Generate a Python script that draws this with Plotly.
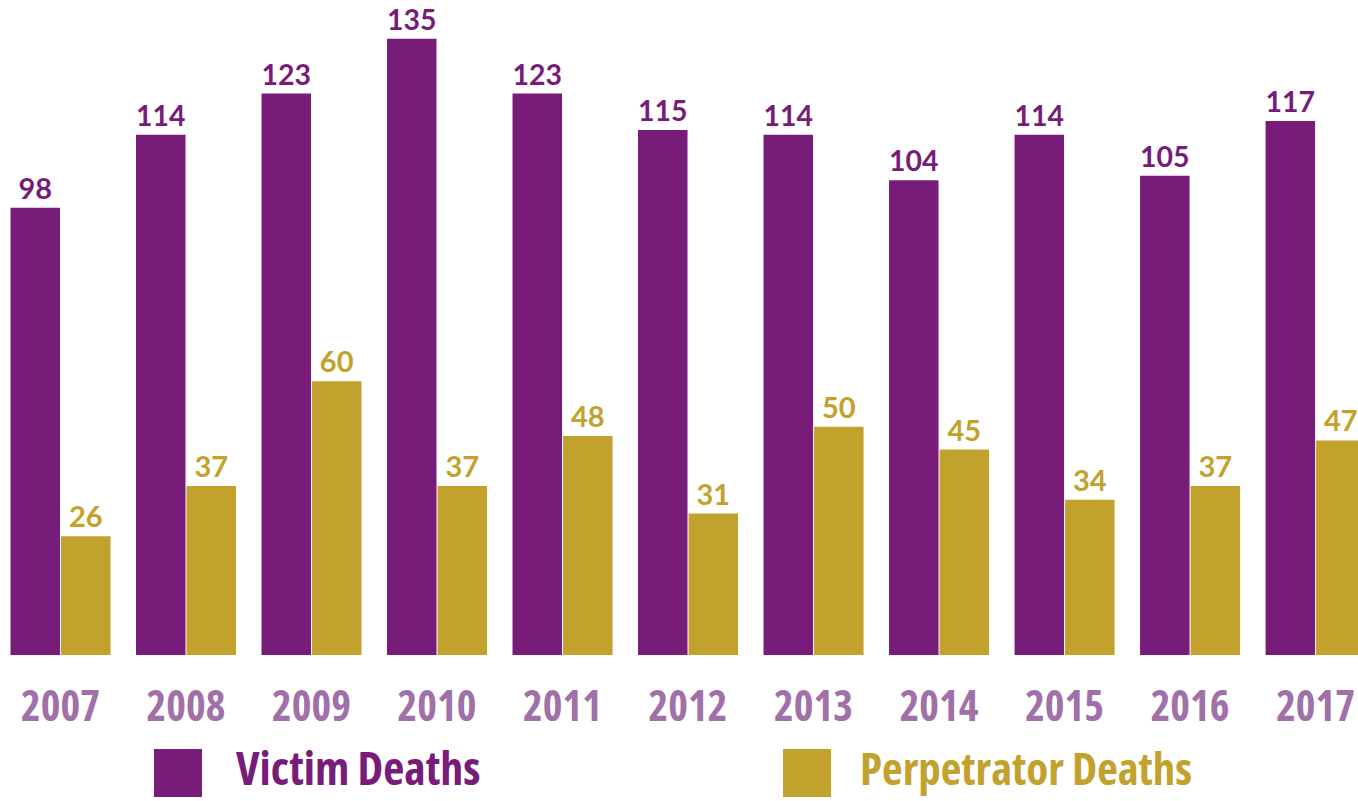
import plotly.graph_objects as go

years = ["2007", "2008", "2009", "2010", "2011", "2012", "2013", "2014", "2015", "2016", "2017"]
victim_deaths = [98, 114, 123, 135, 123, 115, 114, 104, 114, 105, 117]
perpetrator_deaths = [26, 37, 60, 37, 48, 31, 50, 45, 34, 37, 47]

PURPLE = "#781c79"
GOLD = "#c2a12d"
YEAR_COLOR = "#a070a8"
NUM_FONT = "Lato, 'Open Sans', sans-serif"
COND = "<span style='font-stretch:75%'>{}</span>"

fig = go.Figure()

fig.add_trace(go.Bar(
    x=years, y=victim_deaths, name="Victim Deaths",
    marker=dict(color=PURPLE, line=dict(width=0)),
    text=victim_deaths, textposition="outside",
    textfont=dict(family=NUM_FONT, size=29, color=PURPLE, weight="bold"),
    cliponaxis=False, showlegend=False,
))
fig.add_trace(go.Bar(
    x=years, y=perpetrator_deaths, name="Perpetrator Deaths",
    marker=dict(color=GOLD, line=dict(width=0)),
    text=perpetrator_deaths, textposition="outside",
    textfont=dict(family=NUM_FONT, size=29, color=GOLD, weight="bold"),
    cliponaxis=False, showlegend=False,
))

# legend drawn by hand: large squares + labels below the axis
legend_items = [("Victim Deaths", PURPLE, 0.1134, 0.172, 46), ("Perpetrator Deaths", GOLD, 0.5766, 0.632, 45)]
for label, color, sx, tx, fs in legend_items:
    fig.add_shape(type="rect", xref="paper", yref="paper",
                  x0=sx, x1=sx + 48 / 1358, y0=-(749 - 655) / 655, y1=-(797 - 655) / 655,
                  fillcolor=color, line=dict(width=0))
    fig.add_annotation(text=COND.format(label), xref="paper", yref="paper", x=tx, y=-(800 - 655) / 655,
                       xanchor="left", yanchor="bottom", showarrow=False,
                       font=dict(family="Open Sans", size=fs, color=color, weight="bold"))

fig.update_layout(
    width=1358, height=801,
    margin=dict(l=0, r=0, t=0, b=146),
    paper_bgcolor="white", plot_bgcolor="white",
    barmode="group", bargap=0.195, bargroupgap=0.02,
    xaxis=dict(
        type="category", range=[-0.482, 10.338],
        tickmode="array", tickvals=years, ticktext=[COND.format(y) for y in years],
        showline=False, showgrid=False, zeroline=False,
        ticks="", ticklabelstandoff=23,
        tickfont=dict(family="Open Sans", size=42, color=YEAR_COLOR, weight="bold"),
    ),
    yaxis=dict(range=[0, 143.5], visible=False),
)

fig.write_html("out.html", post_script="document.body.style.margin='0';",
               config={"displayModeBar": False})
